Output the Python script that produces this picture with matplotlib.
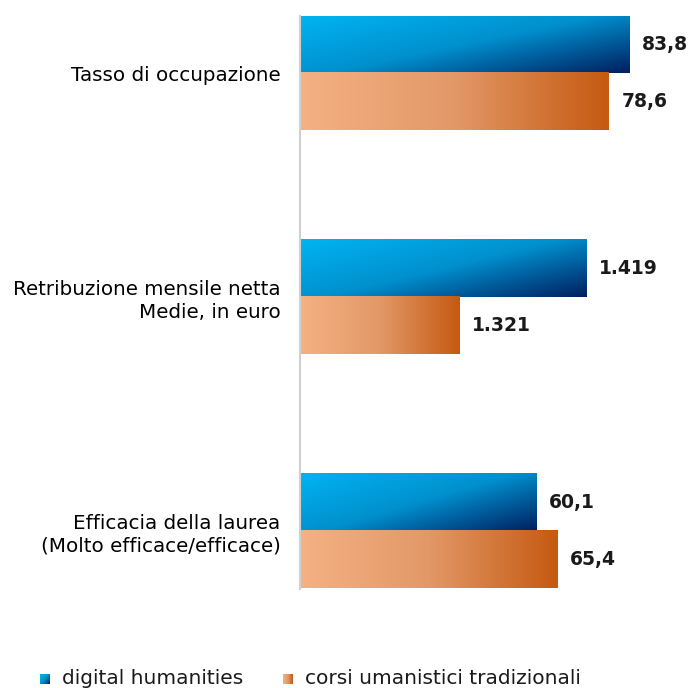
import numpy as np
import matplotlib.pyplot as plt
from matplotlib.colors import LinearSegmentedColormap

plt.rcParams['font.family'] = ['DejaVu Sans']

categories = ["Tasso di occupazione",
              "Retribuzione mensile netta\nMedie, in euro",
              "Efficacia della laurea\n(Molto efficace/efficace)"]
series = ["digital humanities", "corsi umanistici tradizionali"]
# bar lengths as drawn in the chart (the salary row is on its own scale)
dh_len = [83.8, 73.0, 60.1]
trad_len = [78.6, 40.5, 65.4]
dh_labels = ["83,8", "1.419", "60,1"]
trad_labels = ["78,6", "1.321", "65,4"]

group_pos = [1.0, 4.93, 9.03]

blue_cmap = LinearSegmentedColormap.from_list("blue", ["#00B4F0", "#0090CE", "#002060"])
orange_cmap = LinearSegmentedColormap.from_list("orange", ["#F4B183", "#E39868", "#C55A11"])

W, H = 691, 688
fig = plt.figure(figsize=(W / 100, H / 100), dpi=100)
ax = fig.add_axes([300 / W, 1 - 589 / H, 391 / W, 573 / H])

bars_dh = ax.barh(np.array(group_pos) - 0.5, dh_len, height=1.0, color="none")
bars_tr = ax.barh(np.array(group_pos) + 0.5, trad_len, height=1.0, color="none")

u, v = np.meshgrid(np.linspace(0, 1, 200), np.linspace(0, 1, 50))
blue_grad = (0.55 * u + 0.45 * v)
orange_grad = u

for bars, grad, cmap in [(bars_dh, blue_grad, blue_cmap), (bars_tr, orange_grad, orange_cmap)]:
    for b in bars:
        x0, y0 = b.get_x(), b.get_y()
        x1, y1 = x0 + b.get_width(), y0 + b.get_height()
        # y axis inverted: image row 0 at the top of the bar
        ax.imshow(grad, cmap=cmap, vmin=0, vmax=1, aspect="auto",
                  extent=[x0, x1, y1, y0], interpolation="bilinear", zorder=2)

for bars, labels in [(bars_dh, dh_labels), (bars_tr, trad_labels)]:
    for b, lab in zip(bars, labels):
        ax.annotate(lab, (b.get_width(), b.get_y() + b.get_height() / 2),
                    xytext=(9, 0), textcoords="offset points",
                    ha="left", va="center", fontsize=13.5, fontweight="bold",
                    color="#1a1a1a", annotation_clip=False)

ax.set_xlim(0, 391 / 3.93)
ax.set_ylim(10.05, 0)
ax.set_yticks(group_pos)
ax.set_yticklabels(categories, fontsize=14.3, linespacing=1.25)
ax.tick_params(axis="y", length=0, pad=14)
ax.set_xticks([])
for s in ["top", "right", "bottom"]:
    ax.spines[s].set_visible(False)
ax.spines["left"].set_color("#D0D0D0")
ax.spines["left"].set_linewidth(1.5)

# legend with gradient squares
for x, cmap, grad, label in [(40, blue_cmap, blue_grad, series[0]),
                             (283, orange_cmap, orange_grad, series[1])]:
    sq = fig.add_axes([x / W, 1 - 684 / H, 10 / W, 10 / H])
    sq.imshow(grad, cmap=cmap, vmin=0, vmax=1, aspect="auto")
    sq.axis("off")
    fig.text((x + 22) / W, 1 - 679 / H, label, ha="left", va="center",
             fontsize=14.5, color="#1a1a1a")

fig.savefig("out.png", dpi=100)
